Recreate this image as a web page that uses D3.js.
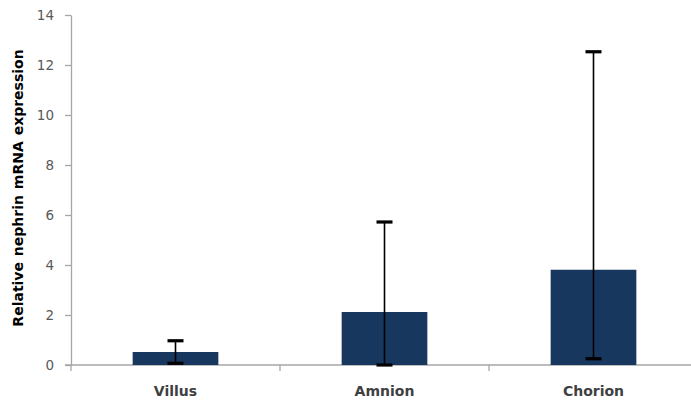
<!DOCTYPE html>
<html>
<head>
<meta charset="utf-8">
<script src="https://cdn.jsdelivr.net/npm/d3@7/dist/d3.min.js"></script>
<style>
  html, body { margin: 0; padding: 0; background: #fff; }
  svg { display: block; }
</style>
</head>
<body>
<svg id="chart" width="691" height="405"></svg>
<script>
// Relative nephrin mRNA expression by tissue
const categories = ["Villus", "Amnion", "Chorion"];
const means = [0.52, 2.12, 3.81];
const errLow = [0.07, 0.0, 0.25];
const errHigh = [0.97, 5.72, 12.53];
const yTicks = [0, 2, 4, 6, 8, 10, 12, 14];

const svg = d3.select("#chart");
const margin = { left: 71, top: 15, bottom: 40 };
const height = 405;
const step = 209;

const x = d3.scaleBand()
  .domain(categories)
  .range([margin.left, margin.left + step * categories.length])
  .paddingInner(0.59)
  .paddingOuter(0.295);

const y = d3.scaleLinear()
  .domain([0, 14])
  .range([height - margin.bottom, margin.top]);

// Y axis
const yAxis = svg.append("g")
  .attr("transform", `translate(${margin.left},0)`)
  .call(d3.axisLeft(y).tickValues(yTicks).tickSize(6).tickSizeOuter(0).tickPadding(11));
yAxis.select(".domain").attr("stroke", "#a6a6a6").attr("stroke-width", 1.3);
yAxis.selectAll(".tick line").attr("stroke", "#a6a6a6").attr("stroke-width", 1.3);
yAxis.selectAll(".tick text")
  .attr("fill", "#595959")
  .style("font-family", "'DejaVu Sans', sans-serif")
  .style("font-size", "13.5px");

// X axis (category boundaries as ticks)
const xAxisG = svg.append("g").attr("transform", `translate(0,${y(0)})`);
xAxisG.append("line")
  .attr("x1", margin.left - 6).attr("x2", 691)
  .attr("stroke", "#a6a6a6").attr("stroke-width", 1.3);
const bounds = d3.range(categories.length + 1).map(i => margin.left + step * i);
xAxisG.selectAll("line.b").data(bounds).enter().append("line")
  .attr("class", "b")
  .attr("x1", d => d).attr("x2", d => d)
  .attr("y1", 0).attr("y2", 6)
  .attr("stroke", "#a6a6a6").attr("stroke-width", 1.3);

xAxisG.selectAll("text").data(categories).enter().append("text")
  .attr("x", d => x(d) + x.bandwidth() / 2)
  .attr("y", 31)
  .attr("text-anchor", "middle")
  .attr("fill", "#404040")
  .style("font-family", "'DejaVu Sans', sans-serif")
  .style("font-weight", "bold")
  .style("font-size", "14px")
  .text(d => d);

// Bars
svg.append("g").selectAll("rect").data(categories).enter().append("rect")
  .attr("x", d => x(d))
  .attr("width", x.bandwidth())
  .attr("y", (d, i) => y(means[i]))
  .attr("height", (d, i) => y(0) - y(means[i]))
  .attr("fill", "#17375e");

// Error bars
const eb = svg.append("g");
const cap = 8;
categories.forEach((c, i) => {
  const cx = x(c) + x.bandwidth() / 2;
  eb.append("line")
    .attr("x1", cx).attr("x2", cx)
    .attr("y1", y(errLow[i])).attr("y2", y(errHigh[i]))
    .attr("stroke", "#000").attr("stroke-width", 1.6);
  [errLow[i], errHigh[i]].forEach(v => {
    eb.append("line")
      .attr("x1", cx - cap).attr("x2", cx + cap)
      .attr("y1", y(v)).attr("y2", y(v))
      .attr("stroke", "#000").attr("stroke-width", 3.2);
  });
});

// Y axis title
svg.append("text")
  .attr("transform", `translate(23,188) rotate(-90)`)
  .attr("text-anchor", "middle")
  .attr("fill", "#000")
  .style("font-family", "'DejaVu Sans', sans-serif")
  .style("font-weight", "bold")
  .style("font-size", "14px")
  .style("word-spacing", "1px")
  .text("Relative nephrin mRNA expression");
</script>
</body>
</html>
